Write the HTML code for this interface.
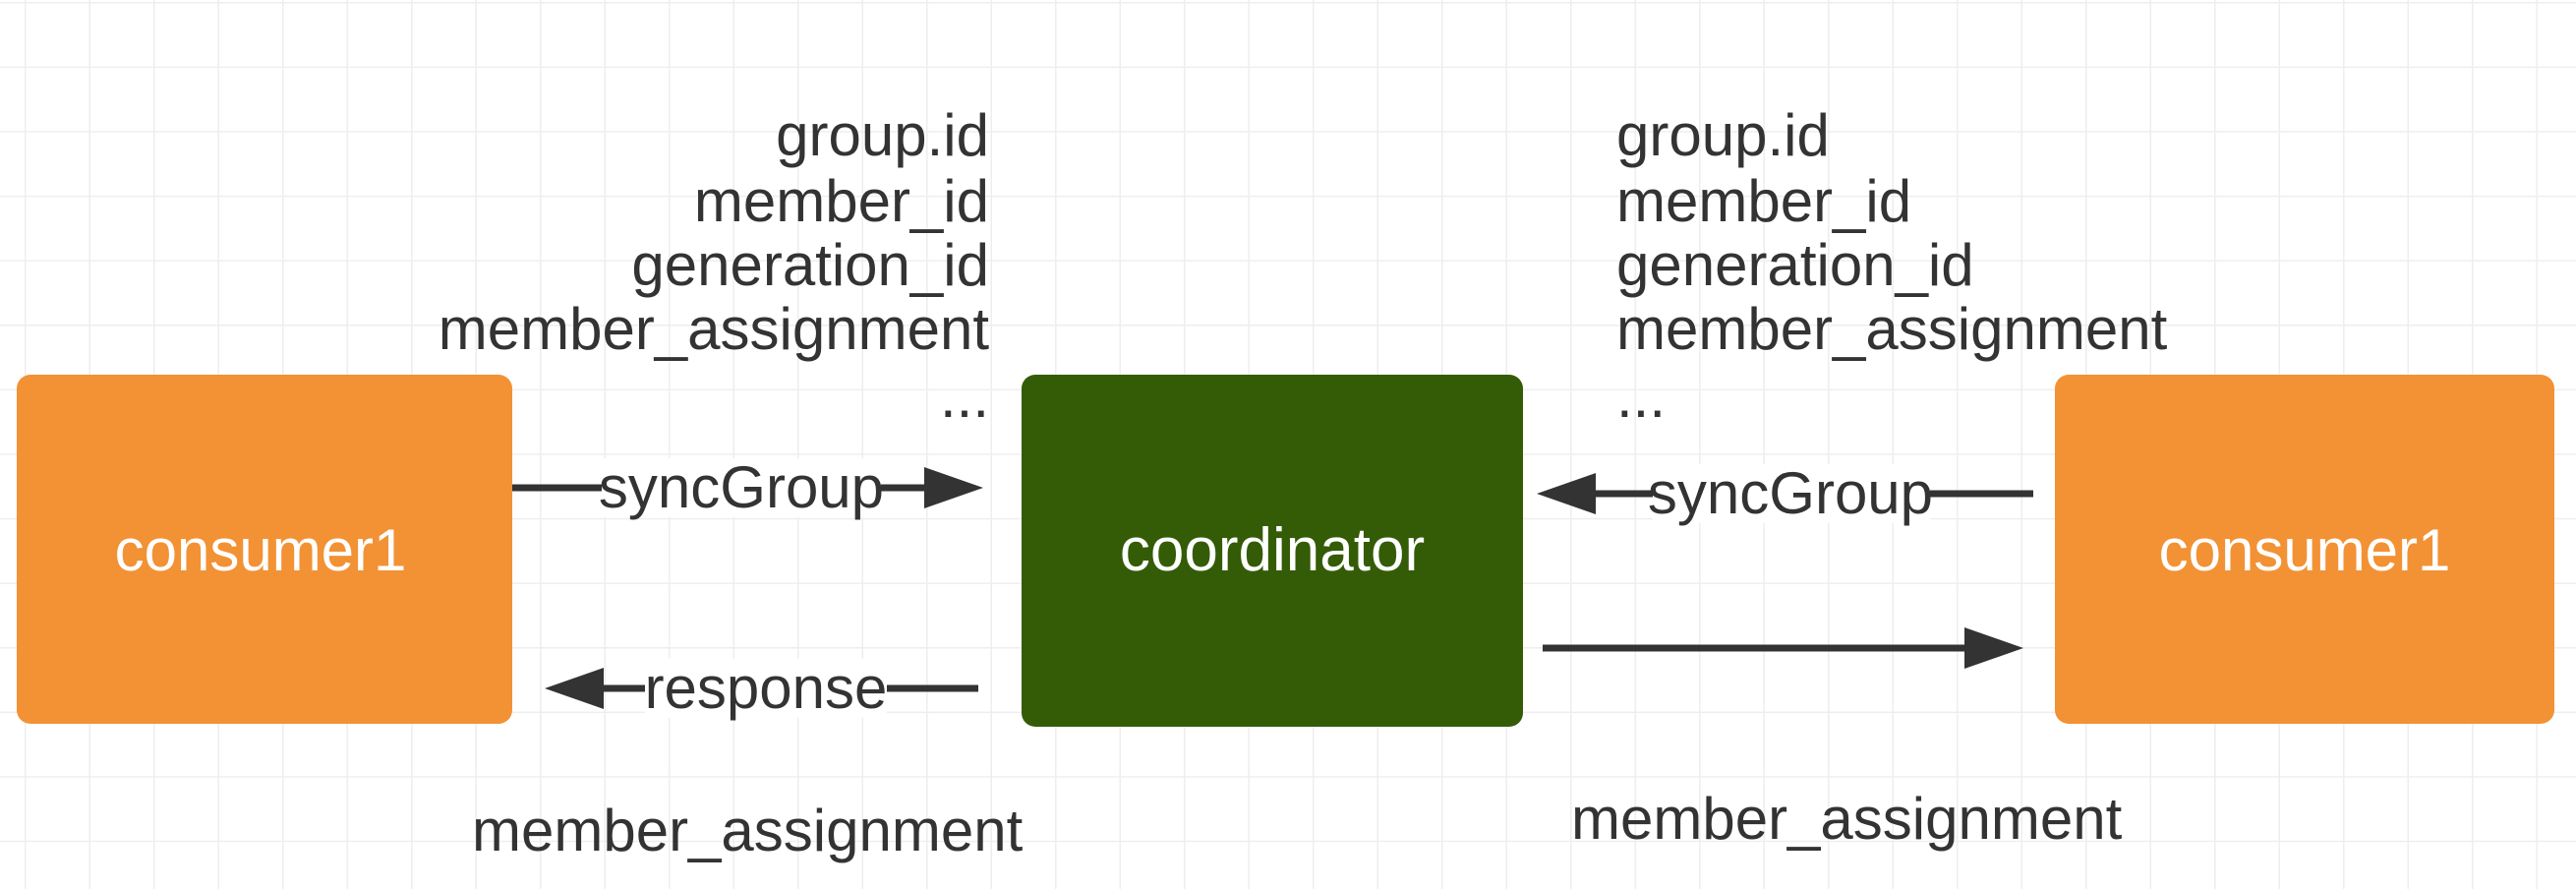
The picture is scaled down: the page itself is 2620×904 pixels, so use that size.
<!DOCTYPE html>
<html><head><meta charset="utf-8"><style>
html,body{margin:0;padding:0;background:#fff;}
svg{display:block;}
text{font-family:"Liberation Sans",sans-serif;}
</style></head><body>
<svg width="2620" height="904" viewBox="0 0 2620 904" xmlns="http://www.w3.org/2000/svg">
<defs>
<pattern id="g" x="25" y="2" width="65.5" height="65.6" patternUnits="userSpaceOnUse">
<path d="M0 0V65.6M0 0H65.5" stroke="#eeeeee" stroke-width="3" fill="none"/>
</pattern>
</defs>
<rect width="2620" height="904" fill="url(#g)"/>
<rect x="17" y="381" width="504" height="355" rx="14" fill="#f29235"/>
<rect x="1039" y="381" width="510" height="358" rx="14" fill="#345c07"/>
<rect x="2090" y="381" width="508" height="355" rx="14" fill="#f29235"/>
<g fill="#fff" font-size="60" text-anchor="middle">
<text x="265" y="580">consumer1</text>
<text x="1294" y="580" font-size="62">coordinator</text>
<text x="2344" y="580">consumer1</text>
</g>
<g stroke="#333" stroke-width="7" fill="none">
<line x1="521" y1="496" x2="945" y2="496"/>
<line x1="995" y1="700" x2="610" y2="700"/>
<line x1="2068" y1="502" x2="1620" y2="502"/>
<line x1="1569" y1="659" x2="2000" y2="659"/>
</g>
<g fill="#333">
<polygon points="1000,496 940,475 940,517"/>
<polygon points="554,700 614,679 614,721"/>
<polygon points="1563,502 1623,481 1623,523"/>
<polygon points="2058,659 1998,638 1998,680"/>
</g>
<g fill="#333" font-size="60">
<rect x="612" y="466" width="284" height="60" fill="#fff"/>
<text x="754" y="516" text-anchor="middle">syncGroup</text>
<rect x="656" y="670" width="246" height="60" fill="#fff"/>
<text x="779" y="720" text-anchor="middle">response</text>
<rect x="1681" y="472" width="282" height="60" fill="#fff"/>
<text x="1821" y="522" text-anchor="middle">syncGroup</text>
<g text-anchor="end">
<text x="1006" y="158">group.id</text>
<text x="1006" y="225">member_id</text>
<text x="1006" y="290">generation_id</text>
<text x="1006" y="355">member_assignment</text>
<text x="1006" y="424">...</text>
</g>
<text x="1644" y="158">group.id</text>
<text x="1644" y="225">member_id</text>
<text x="1644" y="290">generation_id</text>
<text x="1644" y="355">member_assignment</text>
<text x="1644" y="424">...</text>
<text x="480" y="865">member_assignment</text>
<text x="1598" y="853">member_assignment</text>
</g>
</svg>
</body></html>
